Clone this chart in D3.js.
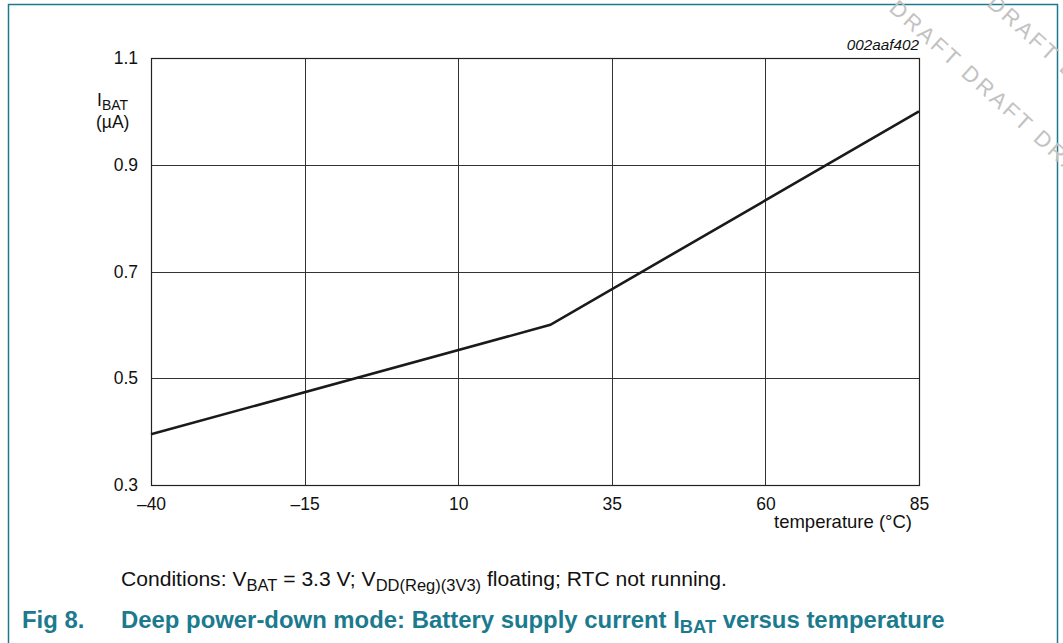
<!DOCTYPE html>
<html><head><meta charset="utf-8">
<script src="https://cdn.jsdelivr.net/npm/d3@7"></script>
<style>body{margin:0;background:#fff}svg{display:block}</style>
</head><body>
<svg id="c" width="1063" height="643"></svg>
<script>
const temperature = [-40, 25, 85];
const ibat = [0.395, 0.6, 1.0];
const xTicks = [-40, -15, 10, 35, 60, 85];
const yTicks = [0.3, 0.5, 0.7, 0.9, 1.1];

const svg = d3.select("#c");
const font = "Liberation Sans, Arial, sans-serif";
const teal = "#1b7a8e";

// frame
svg.append("path").attr("d","M8.5,643 V4.5 H1057.5 V643").attr("fill","none").attr("stroke",teal).attr("stroke-width",1.5);

// watermark
const wm = svg.append("g").attr("fill","#c2c2c2").attr("font-family",font).attr("font-size",22).attr("letter-spacing",3);
wm.append("text").attr("transform","translate(888,10) rotate(42)").text("DRAFT DRAFT DRAFT");
wm.append("text").attr("transform","translate(914,-60) rotate(42)").text("DRAFT DRAFT DRAFT");

const L=151, R=919, T=58, B=485;
const x = d3.scaleLinear().domain([-40,85]).range([L,R]);
const y = d3.scaleLinear().domain([0.3,1.1]).range([B,T]);

const g = svg.append("g");
// grid
g.selectAll(".vg").data(xTicks).join("line").attr("x1",d=>Math.round(x(d))+0.5).attr("x2",d=>Math.round(x(d))+0.5)
  .attr("y1",T).attr("y2",B).attr("stroke","#333").attr("stroke-width",1);
g.selectAll(".hg").data(yTicks).join("line").attr("y1",d=>Math.round(y(d))+0.5).attr("y2",d=>Math.round(y(d))+0.5)
  .attr("x1",L).attr("x2",R).attr("stroke","#333").attr("stroke-width",1);
g.append("rect").attr("x",L+0.5).attr("y",T+0.5).attr("width",R-L).attr("height",B-T).attr("fill","none").attr("stroke","#222").attr("stroke-width",1.2);

// axes labels via d3 axes
const xa = svg.append("g").attr("transform",`translate(0,${B})`).call(d3.axisBottom(x).tickValues(xTicks).tickSize(0).tickPadding(12.6).tickFormat(d=>d<0?"\u2013"+Math.abs(d):d));
const ya = svg.append("g").attr("transform",`translate(${L},0)`).call(d3.axisLeft(y).tickValues(yTicks).tickSize(0).tickPadding(13).tickFormat(d3.format(".1f")));
[xa,ya].forEach(a=>{a.select(".domain").remove();a.selectAll("text").attr("font-family",font).attr("font-size",17.5).attr("fill","#111");});

// line
svg.append("path").datum(temperature.map((t,i)=>[t,ibat[i]]))
  .attr("d",d3.line().x(d=>x(d[0])).y(d=>y(d[1])))
  .attr("fill","none").attr("stroke","#1a1a1a").attr("stroke-width",2.6);

// y label
const yl = svg.append("text").attr("font-family",font).attr("font-size",17.5).attr("fill","#111").attr("x",97).attr("y",106);
yl.append("tspan").text("I");
yl.append("tspan").attr("font-size",14).attr("dy",4).text("BAT");
svg.append("text").attr("font-family",font).attr("font-size",17.5).attr("fill","#111").attr("x",96).attr("y",128).text("(\u00b5A)");

// x label
svg.append("text").attr("font-family",font).attr("font-size",18.5).attr("fill","#111").attr("x",912).attr("y",528).attr("text-anchor","end").text("temperature (\u00b0C)");

// code
svg.append("text").attr("font-family",font).attr("font-size",15.3).attr("font-style","italic").attr("fill","#111").attr("x",919).attr("y",50).attr("text-anchor","end").text("002aaf402");

// conditions
const ct = svg.append("text").attr("font-family",font).attr("font-size",21.1).attr("fill","#111").attr("x",121).attr("y",586);
ct.append("tspan").text("Conditions: V");
ct.append("tspan").attr("font-size",16.5).attr("dy",5).text("BAT");
ct.append("tspan").attr("dy",-5).text(" = 3.3 V; V");
ct.append("tspan").attr("font-size",16.5).attr("dy",5).text("DD(Reg)(3V3)");
ct.append("tspan").attr("dy",-5).text(" floating; RTC not running.");

// caption
svg.append("text").attr("font-family",font).attr("font-size",23.9).attr("font-weight","bold").attr("fill",teal).attr("x",22).attr("y",628).text("Fig 8.");
const cap = svg.append("text").attr("font-family",font).attr("font-size",23.9).attr("font-weight","bold").attr("fill",teal).attr("x",121).attr("y",628);
cap.append("tspan").text("Deep power-down mode: Battery supply current I");
cap.append("tspan").attr("font-size",18.3).attr("dy",5).text("BAT");
cap.append("tspan").attr("dy",-5).text(" versus temperature");
</script>
</body></html>
